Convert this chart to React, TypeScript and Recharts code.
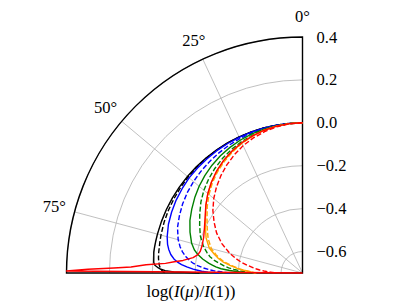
import React from "react";
import {
  RadarChart,
  Radar,
  PolarGrid,
  PolarAngleAxis,
  PolarRadiusAxis,
} from "recharts";

// angle from disc centre (deg) and log(I(mu)/I(1)) per model
const theta = [0, 5, 10, 15, 20, 25, 30, 35, 40, 45, 50, 55, 60, 65, 70, 75, 78, 80, 82, 84, 85, 86, 87, 88, 88.5, 89, 89.5, 90];

const blackSolid = [0, 0, 0, 0, 0, 0, 0, 0, 0, 0, 0, 0, 0, 0, 0, 0, 0, 0, 0, -0.003, -0.004, -0.005, -0.011, -0.028, -0.04, -0.06, -0.1, -0.22];
const blackDashed = [0, 0, 0, 0, -0.001, -0.001, -0.001, -0.002, -0.002, -0.003, -0.004, -0.006, -0.008, -0.01, -0.013, -0.017, -0.02, -0.022, -0.023, -0.025, -0.027, -0.029, -0.032, -0.037, -0.04, -0.045, -0.05, -0.06];
const blueSolid = [0, 0, 0, -0.001, -0.001, -0.002, -0.003, -0.004, -0.006, -0.008, -0.01, -0.015, -0.02, -0.027, -0.035, -0.047, -0.057, -0.067, -0.08, -0.1, -0.115, -0.135, -0.16, -0.19, -0.21, -0.23, -0.26, -0.31];
const blueDashed = [0, -0.001, -0.002, -0.004, -0.006, -0.009, -0.013, -0.018, -0.024, -0.03, -0.037, -0.045, -0.055, -0.067, -0.08, -0.1, -0.117, -0.132, -0.15, -0.175, -0.19, -0.21, -0.235, -0.265, -0.285, -0.31, -0.335, -0.36];
const greenSolid = [0, -0.001, -0.003, -0.006, -0.01, -0.016, -0.024, -0.033, -0.044, -0.057, -0.071, -0.087, -0.104, -0.121, -0.142, -0.165, -0.185, -0.205, -0.23, -0.26, -0.278, -0.295, -0.32, -0.36, -0.385, -0.41, -0.425, -0.44];
const greenDashed = [0, -0.001, -0.004, -0.009, -0.016, -0.025, -0.036, -0.049, -0.064, -0.081, -0.1, -0.122, -0.147, -0.171, -0.193, -0.222, -0.245, -0.262, -0.287, -0.32, -0.335, -0.355, -0.38, -0.41, -0.425, -0.44, -0.455, -0.47];
const orangeSolid = [0, -0.001, -0.005, -0.011, -0.02, -0.031, -0.045, -0.061, -0.079, -0.1, -0.124, -0.15, -0.178, -0.2, -0.222, -0.25, -0.28, -0.3, -0.325, -0.36, -0.378, -0.395, -0.415, -0.44, -0.452, -0.462, -0.47, -0.48];
const orangeDashed = [0, -0.001, -0.005, -0.012, -0.021, -0.033, -0.048, -0.065, -0.084, -0.106, -0.131, -0.158, -0.186, -0.21, -0.232, -0.26, -0.288, -0.308, -0.333, -0.368, -0.386, -0.403, -0.423, -0.447, -0.458, -0.468, -0.476, -0.485];
const redSolid = [0, -0.001, -0.005, -0.011, -0.02, -0.03, -0.043, -0.059, -0.078, -0.1, -0.124, -0.15, -0.176, -0.196, -0.21, -0.215, -0.213, -0.205, -0.185, -0.14, -0.1, -0.06, 0.03, 0.1, 0.18, 0.3, 0.4, null];
const redDashed = [0, -0.002, -0.008, -0.018, -0.03, -0.045, -0.064, -0.085, -0.108, -0.133, -0.16, -0.19, -0.224, -0.258, -0.3, -0.35, -0.385, -0.41, -0.44, -0.47, -0.485, -0.5, -0.52, -0.54, -0.55, -0.56, -0.57, -0.58];

const angleTicks = [0, 25, 50, 75];
const radiusTicks = [-0.6, -0.4, -0.2, 0, 0.2, 0.4];

const series = [
  { key: "k1", values: blackSolid, color: "#000000", dashed: false },
  { key: "k2", values: blackDashed, color: "#000000", dashed: true },
  { key: "b1", values: blueSolid, color: "#0000ff", dashed: false },
  { key: "b2", values: blueDashed, color: "#0000ff", dashed: true },
  { key: "g1", values: greenSolid, color: "#008000", dashed: false },
  { key: "g2", values: greenDashed, color: "#008000", dashed: true },
  { key: "o1", values: orangeSolid, color: "#ffa500", dashed: false },
  { key: "o2", values: orangeDashed, color: "#ffa500", dashed: true },
  { key: "r1", values: redSolid, color: "#ff0000", dashed: false },
  { key: "r2", values: redDashed, color: "#ff0000", dashed: true },
];

const data = theta.map((t, i) => {
  const row: Record<string, number | null> = { theta: t };
  series.forEach((s) => {
    row[s.key] = s.values[i];
  });
  return row;
});

const W = 409;
const H = 307;
const CX = 302.5;
const CY = 273;
const R = 236;
const FONT = "'Liberation Serif', 'Times New Roman', serif";

// open polyline instead of the closed radar polygon
const lineShape = (color: string, dashed: boolean) => (props: any) => {
  const pts = props.points || [];
  let d = "";
  let pen = false;
  pts.forEach((p: any) => {
    if (!Number.isFinite(p.x) || !Number.isFinite(p.y)) {
      pen = false;
      return;
    }
    d += `${pen ? "L" : "M"}${p.x},${p.y}`;
    pen = true;
  });
  return (
    <path
      d={d}
      fill="none"
      stroke={color}
      strokeWidth={1.4}
      strokeLinejoin="round"
      strokeDasharray={dashed ? "5 2.2" : undefined}
    />
  );
};

const AngleTick = (props: any) => {
  const { x, y, payload } = props;
  return (
    <text
      x={x}
      y={y}
      textAnchor="middle"
      dominantBaseline="central"
      fontFamily={FONT}
      fontSize={16.5}
      fill="#000"
    >
      {`${payload.value}°`}
    </text>
  );
};

const RadiusTick = (props: any) => {
  const { y, payload } = props;
  const label = Number(payload.value).toFixed(1).replace("-", "\u2212");
  return (
    <text
      x={CX + 14}
      y={y}
      textAnchor="start"
      dominantBaseline="central"
      fontFamily={FONT}
      fontSize={16.5}
      fill="#000"
    >
      {label}
    </text>
  );
};

export default function App() {
  return (
    <div style={{ position: "absolute", left: 0, top: 0, width: W, height: H, background: "#fff" }}>
      <RadarChart
        width={W}
        height={H}
        data={data}
        cx={CX}
        cy={CY}
        innerRadius={0}
        outerRadius={R}
        startAngle={90}
        endAngle={180}
        margin={{ top: 0, right: 0, bottom: 0, left: 0 }}
      >
        <defs>
          <clipPath id="quarter">
            <rect x={CX - R} y={CY - R} width={R} height={R} />
          </clipPath>
        </defs>
        <PolarGrid
          gridType="circle"
          stroke="#b0b0b0"
          strokeWidth={0.8}
          clipPath="url(#quarter)"
        />
        <PolarAngleAxis
          dataKey="theta"
          type="number"
          domain={[0, 90]}
          ticks={angleTicks as any}
          tickCount={4}
          axisLine={false}
          tickLine={false}
          tickSize={21}
          tick={<AngleTick />}
        />
        <PolarRadiusAxis
          angle={90}
          type="number"
          domain={[-0.7, 0.4]}
          ticks={radiusTicks as any}
          tickCount={12}
          allowDecimals
          allowDataOverflow
          axisLine={false}
          tick={<RadiusTick />}
        />
        {series.map((s) => (
          <Radar
            key={s.key}
            dataKey={s.key}
            stroke={s.color}
            fill="none"
            dot={false}
            activeDot={false}
            isAnimationActive={false}
            shape={lineShape(s.color, s.dashed)}
          />
        ))}
        <path
          d={`M${CX},${CY - R} A${R},${R} 0 0 0 ${CX - R},${CY} L${CX},${CY} Z`}
          fill="none"
          stroke="#000"
          strokeWidth={1.4}
        />
        <text x={191} y={297} textAnchor="middle" fontFamily={FONT} fontSize={17} fill="#000">
          log(<tspan fontStyle="italic">I</tspan>(<tspan fontStyle="italic">μ</tspan>)/<tspan fontStyle="italic">I</tspan>(1))
        </text>
      </RadarChart>
    </div>
  );
}
